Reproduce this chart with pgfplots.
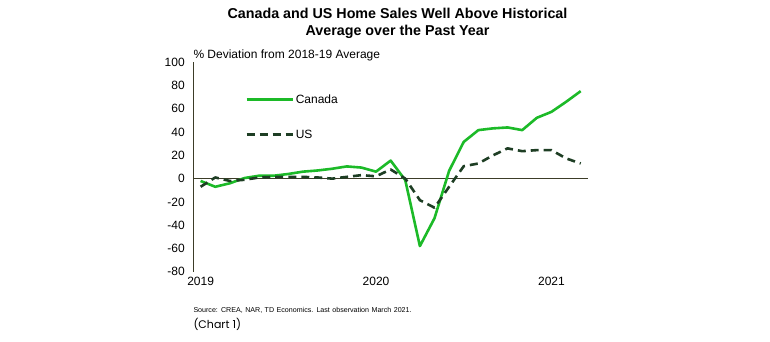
\documentclass[border=0pt]{standalone}
\usepackage{fontspec}
\setmainfont{Liberation Sans}
\newfontfamily\chartfont{Poppins}
\usepackage{pgfplots}
\pgfplotsset{compat=1.18}
\definecolor{canada}{RGB}{28,186,40}
\definecolor{usgreen}{RGB}{30,62,36}
\definecolor{axisc}{RGB}{60,60,40}

\pgfplotstableread{
m v
0 -2
1 -7
2 -4
3 0.5
4 2.5
5 2.5
6 4
7 6
8 7
9 8.5
10 10.5
11 9.5
12 6
13 15.5
14 -1.3
15 -58
16 -34
17 6.7
18 31.6
19 41.7
20 43.2
21 44
22 41.7
23 52.3
24 57.4
25 66
26 75.2
}\canadadata

\pgfplotstableread{
m v
0 -7
1 1
2 -2
3 -1
4 1
5 1.5
6 1.5
7 1.5
8 1
9 0
10 1.5
11 3
12 2
13 7.9
14 0
15 -18.5
16 -25
17 -7
18 10.7
19 13
20 20
21 26
22 23.6
23 24.5
24 24.5
25 17.4
26 13
}\usdata

\begin{document}
\begin{tikzpicture}[x=1pt,y=1pt]
\useasboundingbox (0,0) rectangle (770,342);
\begin{axis}[
  at={(193.3pt,70.3pt)}, anchor=south west,
  scale only axis, width=394.7pt, height=209.4pt,
  xmin=-0.5, xmax=26.5, ymin=-80, ymax=100,
  axis x line*=bottom, axis y line*=left,
  x axis line style={draw=none},
  y axis line style={-, draw=axisc, line width=1.3pt},
  xtick={0,12,24}, xticklabels={2019,2020,2021},
  ytick={-80,-60,...,100},
  major tick length=0pt,
  /pgf/number format/assume math mode=true,
  tick label style={font=\fontsize{12}{14}\selectfont},
  yticklabel style={xshift=-5pt},
  xticklabel style={yshift=-2pt},
  legend entries={Canada, US},
  legend style={draw=none, fill=none, at={(0.131,0.857)}, anchor=north west,
    inner sep=0pt, row sep=21pt, font=\fontsize{12}{14}\selectfont,
    /tikz/every even column/.append style={column sep=5pt}},
  legend cell align=left,
  legend image code/.code={\draw[#1] (0pt,0pt) -- (46pt,0pt);},
  clip=false,
]
\addplot[axisc, line width=1.3pt, forget plot] coordinates {(-0.5,0) (26.5,0)};
\addplot[canada, line width=2.6pt, line join=round] table[x=m,y=v] {\canadadata};
\addplot[usgreen, line width=2.6pt, dash pattern=on 8pt off 5pt, line join=round] table[x=m,y=v] {\usdata};
\end{axis}
\node[align=center, font=\bfseries\fontsize{14.3}{16.5}\selectfont] at (397.5,318.7)
  {Canada and US Home Sales Well Above Historical\\Average over the Past Year};
\node[anchor=base west, inner sep=0pt, font=\fontsize{12}{14}\selectfont] at (193.3,283)
  {\% Deviation from 2018-19 Average};
\node[anchor=base west, inner sep=0pt, font=\fontsize{7.1}{9}\selectfont] at (193.3,29.3)
  {\spaceskip=0.35em Source: CREA, NAR, TD Economics. Last observation March 2021.};
\node[anchor=base west, inner sep=0pt, font=\chartfont\fontsize{11}{13}\selectfont] at (193.3,13)
  {(Chart 1)};
\end{tikzpicture}
\end{document}
